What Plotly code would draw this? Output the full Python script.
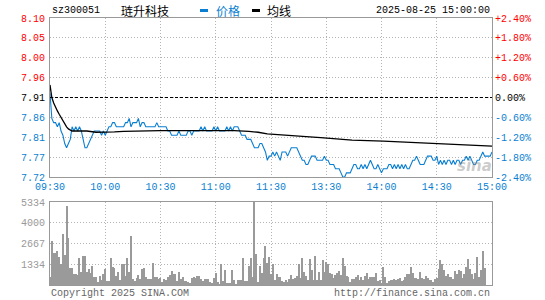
import plotly.graph_objects as go

prev_close = 7.91

price = [
    7.92, 7.86, 7.85, 7.85, 7.84, 7.85, 7.83, 7.82, 7.80, 7.79,
    7.80, 7.81, 7.84, 7.83, 7.84, 7.83, 7.84, 7.83, 7.81, 7.79,
    7.79, 7.80, 7.81, 7.82, 7.83, 7.83, 7.83, 7.83, 7.82, 7.83,
    7.82, 7.83, 7.84, 7.84, 7.85, 7.85, 7.84, 7.84, 7.84, 7.84,
    7.84, 7.85, 7.85, 7.86, 7.84, 7.85, 7.85, 7.85, 7.86, 7.84,
    7.85, 7.85, 7.84, 7.84, 7.84, 7.84, 7.84, 7.84, 7.85, 7.84,
    7.84, 7.84, 7.84, 7.84, 7.83, 7.83, 7.82, 7.82, 7.82, 7.82,
    7.83, 7.82, 7.82, 7.82, 7.82, 7.83, 7.83, 7.82, 7.83, 7.83,
    7.83, 7.83, 7.84, 7.83, 7.84, 7.83, 7.83, 7.83, 7.83, 7.84,
    7.83, 7.84, 7.83, 7.83, 7.83, 7.83, 7.84, 7.83, 7.84, 7.83,
    7.84, 7.84, 7.84, 7.83, 7.82, 7.82, 7.82, 7.81, 7.81, 7.81,
    7.80, 7.79, 7.79, 7.79, 7.80, 7.80, 7.79, 7.78, 7.76, 7.77,
    7.77, 7.78, 7.77, 7.78, 7.77, 7.76, 7.78, 7.78, 7.78, 7.77,
    7.78, 7.79, 7.79, 7.79, 7.79, 7.78, 7.77, 7.76, 7.76, 7.75,
    7.75, 7.76, 7.77, 7.77, 7.77, 7.76, 7.76, 7.76, 7.76, 7.77,
    7.76, 7.76, 7.75, 7.75, 7.75, 7.74, 7.74, 7.74, 7.73, 7.72,
    7.72, 7.73, 7.73, 7.73, 7.74, 7.75, 7.75, 7.74, 7.74, 7.75,
    7.74, 7.75, 7.74, 7.75, 7.76, 7.75, 7.74, 7.74, 7.75, 7.74,
    7.73, 7.74, 7.74, 7.74, 7.75, 7.75, 7.74, 7.75, 7.74, 7.75,
    7.74, 7.75, 7.74, 7.75, 7.74, 7.74, 7.75, 7.76, 7.76, 7.77,
    7.76, 7.75, 7.75, 7.75, 7.76, 7.77, 7.77, 7.77, 7.76, 7.76,
    7.77, 7.75, 7.76, 7.75, 7.76, 7.75, 7.76, 7.76, 7.75, 7.76,
    7.75, 7.76, 7.76, 7.75, 7.76, 7.76, 7.77, 7.76, 7.77, 7.76,
    7.75, 7.75, 7.76, 7.76, 7.77, 7.78, 7.77, 7.77, 7.77, 7.77,
    7.78,
]

avg_t = [0, 1, 2, 3, 4, 5, 6, 7, 8, 9, 10, 11, 12, 15, 20, 25, 30, 35, 40, 50,
         60, 80, 100, 108, 113, 118, 122, 135, 141, 147, 157, 164, 181, 196,
         211, 227, 236, 240]
avg_v = [7.940, 7.910, 7.897, 7.885, 7.878, 7.870, 7.862, 7.855, 7.848, 7.840,
         7.835, 7.832, 7.830, 7.830, 7.830, 7.827, 7.827, 7.828, 7.829, 7.830,
         7.831, 7.831, 7.831, 7.829, 7.827, 7.823, 7.822, 7.819, 7.816, 7.814,
         7.811, 7.808, 7.806, 7.803, 7.800, 7.798, 7.795, 7.794]

volume = [
    533, 2817, 2049, 2049, 2177, 1771, 1323, 3265, 1921, 5058,
    3009, 1088, 1088, 683, 683, 619, 1707, 832, 1835, 1857,
    832, 1003, 790, 1216, 533, 512, 192, 576, 341, 704,
    1024, 235, 235, 1728, 1174, 1067, 576, 832, 320, 1323,
    1323, 576, 1728, 811, 3137, 384, 256, 427, 661, 405,
    1046, 1067, 512, 384, 384, 405, 1408, 491, 512, 384,
    427, 192, 384, 299, 491, 619, 896, 683, 683, 277,
    832, 363, 512, 277, 277, 213, 128, 469, 512, 469,
    597, 576, 384, 235, 363, 405, 384, 213, 149, 469,
    768, 192, 64, 1344, 256, 960, 128, 85, 128, 960,
    299, 43, 320, 320, 320, 1707, 277, 256, 1238, 1707,
    533, 5334, 2006, 192, 1238, 747, 1728, 2475, 1408, 1771,
    725, 1344, 299, 683, 533, 533, 256, 171, 299, 192,
    384, 640, 405, 469, 576, 1344, 427, 1728, 811, 576,
    320, 1686, 939, 320, 1878, 320, 853, 320, 1622, 853,
    1494, 1323, 747, 683, 427, 619, 747, 875, 619, 1707,
    1216, 576, 533, 213, 363, 405, 491, 619, 320, 491,
    320, 576, 747, 363, 533, 512, 491, 747, 256, 320,
    149, 1152, 533, 149, 235, 320, 320, 405, 320, 363,
    469, 256, 299, 533, 683, 683, 1152, 790, 469, 427,
    384, 811, 469, 363, 576, 427, 341, 299, 213, 384,
    469, 1024, 1600, 1323, 982, 576, 683, 533, 491, 363,
    918, 704, 960, 918, 469, 704, 1174, 1643, 1024, 704,
    405, 747, 1771, 533, 960, 2155, 1067,
]

time_ticks = [0, 30, 60, 90, 120, 150, 180, 210, 240]
time_labels = ["09:30", "10:00", "10:30", "11:00", "11:30", "13:30", "14:00", "14:30", "15:00"]
price_labels = ["7.72", "7.77", "7.81", "7.86", "7.91", "7.96", "8.00", "8.05", "8.10"]
pct_values = [-2.4, -1.8, -1.2, -0.6, 0.0, 0.6, 1.2, 1.8, 2.4]
pct_labels = ["-2.40%", "-1.80%", "-1.20%", "-0.60%", "0.00%", "+0.60%", "+1.20%", "+1.80%", "+2.40%"]
vol_ticks = [1334, 2667, 4000, 5334]
vol_labels = ["1334", "2667", "4000", "5334"]

stock_code = "sz300051"
stock_name = "琏升科技"
timestamp = "2025-08-25 15:00:00"

BLUE = "#0a7fd2"
RED = "#ff0000"
GRAY = "#999999"
GRID = "#b4b4b4"
MONO = "Liberation Mono, DejaVu Sans Mono, monospace"

W, H = 545, 300
X0, X1 = 50, 492
MAIN_T, MAIN_B = 18, 177
VOL_T, VOL_B = 202, 285


def px(x):
    return x / W


def py(y):
    return 1 - y / H


def col(i, n):
    mid = n // 2
    return BLUE if i < mid else ("#000000" if i == mid else RED)


lo = prev_close * (1 - 0.024)
hi = prev_close * (1 + 0.024)
price_ticks = [lo + i * (hi - lo) / 8 for i in range(9)]
price_text = [f"<span style='color:{col(i, 9)}'>{t}</span>" for i, t in enumerate(price_labels)]
pct_text = [f"<span style='color:{col(i, 9)}'>{t}</span>" for i, t in enumerate(pct_labels)]
pct_series = [(p / prev_close - 1) * 100 for p in price]
minutes = list(range(len(price)))

fig = go.Figure()
fig.add_trace(go.Scatter(x=minutes, y=price, mode="lines",
                         line=dict(color=BLUE, width=1.1), xaxis="x", yaxis="y",
                         hoverinfo="skip"))
fig.add_trace(go.Scatter(x=avg_t, y=avg_v, mode="lines",
                         line=dict(color="#000000", width=1.3), xaxis="x", yaxis="y",
                         hoverinfo="skip"))
fig.add_trace(go.Scatter(x=minutes, y=pct_series, mode="lines", opacity=0,
                         line=dict(width=0), xaxis="x", yaxis="y2", hoverinfo="skip"))
fig.add_trace(go.Bar(x=list(range(len(volume))), y=volume, width=0.55,
                     marker=dict(color="#9a9a9a", line=dict(width=0)),
                     xaxis="x2", yaxis="y3", hoverinfo="skip"))

axis_common = dict(showline=True, mirror=True, linecolor=GRAY, linewidth=1,
                   showgrid=True, gridcolor=GRID, griddash="1px,2px", gridwidth=1,
                   zeroline=False, ticks="", fixedrange=True, automargin=False)

fig.update_layout(
    width=W, height=H,
    margin=dict(l=0, r=0, t=0, b=0),
    paper_bgcolor="white", plot_bgcolor="white",
    showlegend=False, bargap=0,
    font=dict(family=MONO, size=10, color="#000"),
    xaxis=dict(domain=[px(X0), px(X1)], range=[0, 240], anchor="y",
               tickmode="array", tickvals=time_ticks, ticktext=time_labels,
               tickfont=dict(color=BLUE, size=10, family=MONO), **axis_common),
    yaxis=dict(domain=[py(MAIN_B), py(MAIN_T)], range=[lo, hi], anchor="x",
               tickmode="array", tickvals=price_ticks, ticktext=price_text,
               tickfont=dict(size=10, family=MONO), ticklabelstandoff=2, **axis_common),
    yaxis2=dict(overlaying="y", side="right", anchor="x", range=[-2.4, 2.4],
                tickmode="array", tickvals=pct_values, ticktext=pct_text,
                tickfont=dict(size=10, family=MONO), showgrid=False, showline=False,
                zeroline=False, ticks="", fixedrange=True, ticklabelstandoff=2,
                automargin=False),
    xaxis2=dict(domain=[px(X0), px(X1)], range=[0, 240], anchor="y3",
                tickmode="array", tickvals=time_ticks, showticklabels=False, **axis_common),
    yaxis3=dict(domain=[py(VOL_B), py(VOL_T)], range=[0, 5334], anchor="x2",
                tickmode="array", tickvals=vol_ticks, ticktext=vol_labels,
                tickfont=dict(color=GRAY, size=10, family=MONO), ticklabelstandoff=2,
                **axis_common),
)

fig.add_shape(type="line", xref="x domain", x0=0, x1=1, yref="y", y0=prev_close, y1=prev_close,
              line=dict(color="#000000", width=1, dash="3px,2px"))

# header
fig.add_annotation(text=stock_code, x=px(50), y=py(11), xref="paper", yref="paper",
                   xanchor="left", yanchor="middle", showarrow=False,
                   font=dict(family=MONO, size=10, color="#000"))
fig.add_annotation(text=stock_name, x=px(119), y=py(11), xref="paper", yref="paper",
                   xanchor="left", yanchor="middle", showarrow=False,
                   font=dict(family="Noto Sans CJK SC", size=12, color="#000"))
fig.add_shape(type="rect", xref="paper", yref="paper", x0=px(200), x1=px(208),
              y0=py(12), y1=py(9), fillcolor=BLUE, line=dict(width=0))
fig.add_annotation(text="价格", x=px(214), y=py(11), xref="paper", yref="paper",
                   xanchor="left", yanchor="middle", showarrow=False,
                   font=dict(family="Noto Sans CJK SC", size=12, color=BLUE))
fig.add_shape(type="rect", xref="paper", yref="paper", x0=px(252), x1=px(260),
              y0=py(12), y1=py(9), fillcolor="#000", line=dict(width=0))
fig.add_annotation(text="均线", x=px(265), y=py(11), xref="paper", yref="paper",
                   xanchor="left", yanchor="middle", showarrow=False,
                   font=dict(family="Noto Sans CJK SC", size=12, color="#000"))
fig.add_annotation(text=timestamp, x=px(492), y=py(11), xref="paper", yref="paper",
                   xanchor="right", yanchor="middle", showarrow=False,
                   font=dict(family=MONO, size=10, color="#000"))

# footer
fig.add_annotation(text="Copyright 2025 SINA.COM", x=px(49), y=py(293), xref="paper", yref="paper",
                   xanchor="left", yanchor="middle", showarrow=False,
                   font=dict(family=MONO, size=10, color="#666"))
fig.add_annotation(text="http://finance.sina.com.cn", x=px(492), y=py(293), xref="paper", yref="paper",
                   xanchor="right", yanchor="middle", showarrow=False,
                   font=dict(family=MONO, size=10, color="#666"))

# watermark
fig.add_annotation(text="<i><b>sina</b></i>", x=px(474), y=py(166), xref="paper", yref="paper",
                   xanchor="center", yanchor="middle", showarrow=False,
                   font=dict(family="DejaVu Sans", size=15, color="rgba(140,140,140,0.45)"))

fig.write_html("out.html", config={"displayModeBar": False},
               post_script="document.body.style.margin='0';document.body.style.padding='0';")
